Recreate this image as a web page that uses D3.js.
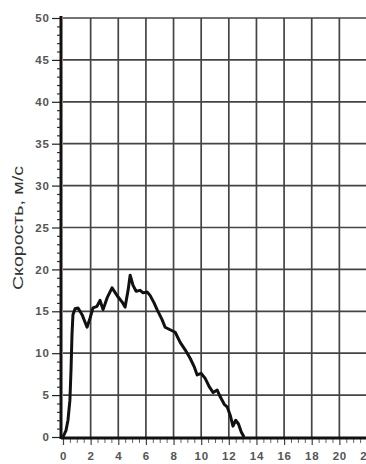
<!DOCTYPE html>
<html><head><meta charset="utf-8">
<script src="https://cdn.jsdelivr.net/npm/d3@7"></script>
<style>body{margin:0;background:#fff}svg{display:block}</style>
</head><body>
<script>
const timeValues = [0,0.22,0.36,0.5,0.58,0.65,0.72,0.87,1.09,1.38,1.74,1.96,2.17,2.46,2.68,2.9,3.19,3.55,3.99,4.28,4.49,4.71,4.86,5.07,5.29,5.58,5.8,6.09,6.3,6.59,6.81,7.17,7.39,7.75,8.12,8.48,8.84,9.2,9.49,9.71,10.0,10.29,10.58,10.87,11.16,11.38,11.67,11.88,12.1,12.3,12.5,12.7,12.9,13.1];
const speedValues = [0,0.8,2.0,4.4,8,12.2,14.6,15.3,15.4,14.6,13.1,14.2,15.4,15.6,16.3,15.2,16.6,17.8,16.7,16.1,15.5,17.5,19.3,18.1,17.4,17.5,17.2,17.3,16.9,16,15.2,14,13.1,12.8,12.5,11.3,10.4,9.4,8.4,7.4,7.6,7.0,6.0,5.3,5.6,4.8,3.9,3.6,2.6,1.3,2.0,1.55,0.6,0];
const xTicks = [0,2,4,6,8,10,12,14,16,18,20,22];
const yTicks = [0,5,10,15,20,25,30,35,40,45,50];
const yTitle = "Скорость, м/с";

const W = 366, H = 464;
const FONT = "Liberation Sans, Arial, sans-serif";
const svg = d3.select("body").append("svg").attr("width", W).attr("height", H);
const x = d3.scaleLinear().domain([0,22]).range([63,367]);
const y = d3.scaleLinear().domain([0,50]).range([437,18]);

// grid
svg.append("g").selectAll("line").data(yTicks.filter(d=>d>0)).join("line")
  .attr("x1", x(0)).attr("x2", W).attr("y1", d=>y(d)).attr("y2", d=>y(d))
  .attr("stroke", "#444").attr("stroke-width", 1.7);
svg.append("g").selectAll("line").data(xTicks.filter(d=>d>0)).join("line")
  .attr("x1", d=>x(d)).attr("x2", d=>x(d)).attr("y1", y(50)).attr("y2", y(0))
  .attr("stroke", "#444").attr("stroke-width", 1.7);

// y axis
const yAxis = d3.axisLeft(y).tickValues(yTicks).tickSize(9).tickPadding(2);
const gy = svg.append("g").attr("transform", `translate(${x(0)-2},0)`).call(yAxis);
gy.select(".domain").remove();
gy.selectAll("line").attr("stroke", "#222").attr("stroke-width", 1.2);
gy.selectAll("text").attr("font-family", FONT).attr("font-size", 11.5).attr("font-weight", "bold")
  .attr("letter-spacing", 1).attr("fill", "#555");
const yMinor = d3.axisLeft(y).tickValues(d3.range(0,51,1).filter(d=>d%5)).tickSize(4).tickFormat("");
const gym = svg.append("g").attr("transform", `translate(${x(0)-2},0)`).call(yMinor);
gym.select(".domain").remove();
gym.selectAll("line").attr("stroke", "#333").attr("stroke-width", 1.2);

// x axis
const xa = d3.axisBottom(x).tickValues(xTicks).tickSize(6).tickPadding(7);
const gx = svg.append("g").attr("transform", `translate(0,${y(0)+2})`).call(xa);
gx.select(".domain").remove();
gx.selectAll("line").attr("stroke", "#444").attr("stroke-width", 1.2);
gx.selectAll("text").attr("font-family", FONT).attr("font-size", 11.5).attr("font-weight", "bold")
  .attr("letter-spacing", 0.8).attr("fill", "#555");
const xMinor = d3.axisBottom(x).tickValues(d3.range(0.5,22,0.5).filter(d=>d%2)).tickSize(4).tickFormat("");
const gxm = svg.append("g").attr("transform", `translate(0,${y(0)+2})`).call(xMinor);
gxm.select(".domain").remove();
gxm.selectAll("line").attr("stroke", "#666").attr("stroke-width", 1);

// axis lines
svg.append("line").attr("x1", x(0)-2).attr("x2", x(0)-2).attr("y1", y(50)-2).attr("y2", y(0)+2)
  .attr("stroke", "#111").attr("stroke-width", 3);
svg.append("line").attr("x1", x(0)-2).attr("x2", W).attr("y1", y(0)+1).attr("y2", y(0)+1)
  .attr("stroke", "#111").attr("stroke-width", 3);

// data line
const data = timeValues.map((t,i)=>({t, v: speedValues[i]}));
svg.append("path").datum(data)
  .attr("d", d3.line().x(d=>x(d.t)).y(d=>y(d.v)))
  .attr("fill", "none").attr("stroke", "#111").attr("stroke-width", 3).attr("stroke-linejoin", "round");

// y title
svg.append("text").attr("transform", `translate(23,${228}) rotate(-90)`)
  .attr("text-anchor", "middle").attr("font-family", FONT)
  .attr("font-size", 14).attr("fill", "#333")
  .attr("textLength", 124).attr("lengthAdjust", "spacingAndGlyphs").text(yTitle);
</script>
</body></html>
